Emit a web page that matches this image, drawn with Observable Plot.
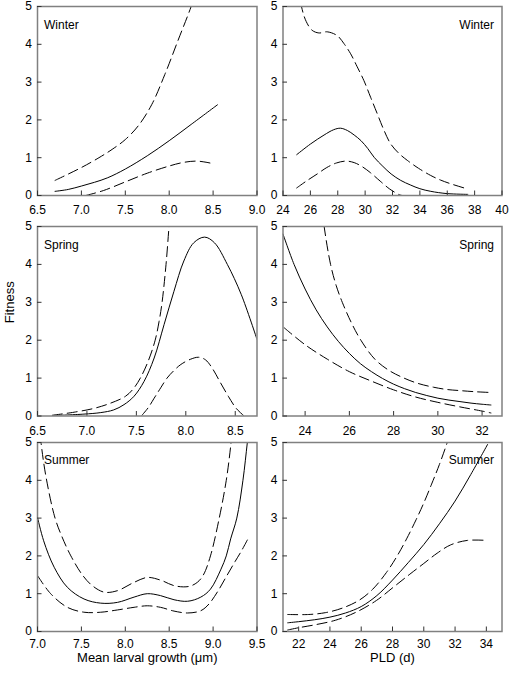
<!DOCTYPE html>
<html><head><meta charset="utf-8">
<script src="https://cdn.jsdelivr.net/npm/d3@7"></script>
<script src="https://cdn.jsdelivr.net/npm/@observablehq/plot@0.6"></script>
<style>
body{margin:0;background:#fff;}
#fig{position:relative;width:510px;height:674px;overflow:hidden;background:#fff;}
#fig svg{position:absolute;}
</style></head><body><div id="fig"></div><script>
// ---------- data ----------
const seasons = ["Winter", "Spring", "Summer"];
const yTicks = [0, 1, 2, 3, 4, 5];
const growthTitle = "Mean larval growth (\u03bcm)";
const pldTitle = "PLD (d)";
const yTitle = "Fitness";

// Winter, growth
const winterGrowthTicks = [6.5, 7.0, 7.5, 8.0, 8.5, 9.0];
const winterGrowthFit = [[6.7,0.11],[6.85,0.16],[7.0,0.25],[7.15,0.35],[7.3,0.47],[7.5,0.70],[7.75,1.05],[8.0,1.45],[8.25,1.88],[8.55,2.40]];
const winterGrowthUpper = [[6.7,0.40],[7.0,0.74],[7.2,1.0],[7.35,1.22],[7.5,1.48],[7.65,1.85],[7.8,2.4],[7.95,3.2],[8.1,4.1],[8.25,5.0],[8.32,5.5]];
const winterGrowthLower = [[7.05,0],[7.25,0.13],[7.5,0.36],[7.75,0.59],[8.0,0.78],[8.15,0.87],[8.3,0.91],[8.42,0.88],[8.52,0.83]];

// Winter, PLD
const winterPldTicks = [24, 26, 28, 30, 32, 34, 36, 38, 40];
const winterPldFit = [[25,1.08],[26,1.36],[27,1.6],[27.7,1.74],[28.2,1.78],[28.7,1.72],[29.2,1.6],[29.7,1.45],[30.2,1.24],[30.66,1.01],[31.3,0.77],[31.9,0.57],[32.6,0.40],[33.3,0.28],[34.0,0.18],[34.8,0.11],[36.0,0.05],[37.5,0.03]];
const winterPldUpper = [[25.0,5.9],[25.35,5.0],[25.7,4.6],[26.13,4.37],[26.62,4.30],[27.23,4.33],[27.96,4.23],[28.45,4.02],[28.94,3.75],[29.4,3.42],[29.91,3.04],[30.4,2.6],[30.89,2.16],[31.36,1.74],[31.86,1.37],[32.45,1.12],[33.08,0.93],[33.9,0.72],[34.79,0.53],[35.5,0.41],[36.25,0.31],[37.5,0.17]];
const winterPldLower = [[25.0,0.20],[25.7,0.38],[26.5,0.57],[27.2,0.74],[27.9,0.86],[28.6,0.91],[29.2,0.87],[29.8,0.76],[30.4,0.6],[31.1,0.38],[31.8,0.17],[32.5,0.02],[32.7,0]];

// Spring, growth
const springGrowthTicks = [6.5, 7.0, 7.5, 8.0, 8.5];
const springGrowthFit = [[6.65,0.01],[6.97,0.05],[7.14,0.09],[7.27,0.16],[7.375,0.30],[7.476,0.52],[7.577,0.91],[7.68,1.53],[7.78,2.41],[7.88,3.29],[7.98,4.09],[8.08,4.57],[8.19,4.72],[8.29,4.57],[8.42,4.0],[8.56,3.21],[8.72,2.02]];
const springGrowthUpper = [[6.65,0.02],[6.87,0.10],[7.07,0.20],[7.24,0.34],[7.39,0.52],[7.47,0.72],[7.54,1.0],[7.62,1.45],[7.69,2.0],[7.73,2.5],[7.76,3.0],[7.80,4.0],[7.83,5.0],[7.85,5.7]];
const springGrowthLower = [[7.55,0],[7.62,0.22],[7.68,0.47],[7.75,0.76],[7.81,1.0],[7.88,1.2],[7.95,1.36],[8.05,1.50],[8.13,1.55],[8.2,1.48],[8.27,1.25],[8.35,0.88],[8.43,0.52],[8.51,0.2],[8.59,0]];

// Spring, PLD
const springPldTicks = [24, 26, 28, 30, 32];
const springPldFit = [[23,4.8],[23.5,4.0],[24,3.35],[24.5,2.8],[25,2.35],[25.5,1.97],[26,1.65],[26.5,1.38],[27,1.17],[27.5,0.99],[28,0.84],[28.5,0.72],[29,0.62],[29.5,0.54],[30,0.47],[30.5,0.42],[31,0.38],[31.5,0.34],[32,0.31],[32.4,0.29]];
const springPldUpper = [[24.7,5.8],[24.86,5.0],[25.15,4.0],[25.4,3.45],[25.68,3.0],[26.1,2.45],[26.52,2.0],[27.15,1.5],[27.8,1.2],[28.47,1.0],[29.1,0.86],[29.8,0.76],[30.4,0.7],[31.0,0.67],[31.7,0.64],[32.4,0.62]];
const springPldLower = [[23.05,2.33],[24,1.88],[25,1.5],[26,1.17],[27,0.92],[28,0.69],[29,0.5],[30,0.36],[31,0.24],[32,0.13],[32.4,0.08]];

// Summer, growth
const summerGrowthTicks = [7.0, 7.5, 8.0, 8.5, 9.0, 9.5];
const summerGrowthFit = [[7.0,3.02],[7.07,2.40],[7.19,1.70],[7.34,1.17],[7.53,0.86],[7.72,0.75],[7.91,0.77],[8.10,0.91],[8.25,1.0],[8.40,0.95],[8.555,0.84],[8.71,0.80],[8.86,0.91],[8.97,1.12],[9.09,1.65],[9.15,2.0],[9.2,2.45],[9.27,3.0],[9.34,4.0],[9.39,5.0],[9.42,5.6]];
const summerGrowthUpper = [[7.0,6.0],[7.04,5.0],[7.1,4.05],[7.2,3.0],[7.28,2.5],[7.38,2.0],[7.51,1.5],[7.62,1.22],[7.76,1.04],[7.91,1.08],[8.1,1.30],[8.25,1.43],[8.4,1.36],[8.56,1.21],[8.72,1.19],[8.82,1.3],[8.89,1.5],[8.97,2.0],[9.07,3.0],[9.15,4.0],[9.2,4.9],[9.23,5.6]];
const summerGrowthLower = [[7.0,1.48],[7.15,1.0],[7.34,0.64],[7.53,0.51],[7.72,0.51],[7.91,0.57],[8.1,0.64],[8.25,0.68],[8.4,0.64],[8.555,0.54],[8.71,0.49],[8.86,0.55],[8.95,0.72],[9.05,1.05],[9.15,1.45],[9.25,1.85],[9.32,2.12],[9.39,2.42]];

// Summer, PLD
const summerPldTicks = [22, 24, 26, 28, 30, 32, 34];
const summerPldFit = [[21.3,0.23],[22,0.26],[23,0.31],[24,0.38],[25,0.49],[26,0.66],[27,0.95],[28,1.36],[29,1.82],[30,2.3],[31,2.85],[32,3.45],[33,4.15],[34.08,4.95]];
const summerPldUpper = [[21.3,0.45],[22.65,0.45],[23.73,0.50],[24.8,0.62],[25.88,0.83],[26.74,1.12],[27.61,1.56],[28.3,2.0],[28.9,2.45],[29.5,2.95],[30.0,3.4],[30.5,3.9],[31.0,4.42],[31.5,5.0],[31.7,5.25]];
const summerPldLower = [[21.3,0.04],[22,0.1],[23.08,0.18],[24.37,0.30],[25.67,0.51],[26.97,0.82],[28.05,1.17],[29.12,1.52],[30.0,1.8],[30.85,2.07],[31.71,2.29],[32.79,2.41],[34.04,2.41]];

// ---------- layout ----------
const FONT = "'Liberation Sans', Arial, Helvetica, sans-serif";
const rows = [{top: 6, bottom: 195}, {top: 225.5, bottom: 415}, {top: 442, bottom: 631}];
const cols = [{svgLeft: 0, svgWidth: 268, left: 37, right: 256.5}, {svgLeft: 258, svgWidth: 252, left: 282.5, right: 501.5}];
const fig = document.getElementById("fig");
const fmt1 = d3.format(".1f");
const fmt0 = d => String(d);

function pts(arr) { return arr.map(([x, y]) => ({x, y})); }

function panel(cfg) {
  const r = rows[cfg.row], c = cols[cfg.col];
  const mt = 6, mb = cfg.row === 2 ? 43 : 24;
  const h = (r.bottom - r.top) + mt + mb;
  const left = cfg.col === 0;
  const marks = [
    Plot.line(pts(cfg.fit), {x: "x", y: "y", curve: "catmull-rom", stroke: "black", strokeWidth: 1, clip: true}),
    Plot.line(pts(cfg.upper), {x: "x", y: "y", curve: "catmull-rom", stroke: "black", strokeWidth: 1, strokeDasharray: "10,5", clip: true}),
    Plot.line(pts(cfg.lower), {x: "x", y: "y", curve: "catmull-rom", stroke: "black", strokeWidth: 1, strokeDasharray: "10,5", clip: true}),
    Plot.frame({stroke: "#808080", strokeWidth: 1.5}),
    Plot.axisX({ticks: cfg.xTicks, tickFormat: cfg.fmt, tickSize: -4.5, tickPadding: cfg.row === 2 ? 12 : 14.5, label: null, stroke: "#333", fontSize: 12}),
    Plot.axisY({ticks: yTicks, tickFormat: fmt0, tickSize: -4.5, tickPadding: 10, label: null, stroke: "#333", fontSize: 12}),
    Plot.text([cfg.season], {frameAnchor: left ? "top-left" : "top-right", textAnchor: left ? "start" : "end",
      dx: left ? 6.5 : -8, dy: cfg.row === 2 ? 12.5 : 14, fontSize: 12, fill: "black"})
  ];
  if (cfg.xTitle) marks.push(Plot.text([cfg.xTitle], {frameAnchor: "bottom", dy: 30, fontSize: 13, fill: "black"}));
  if (cfg.yTitle) marks.push(Plot.text([cfg.yTitle], {frameAnchor: "left", dx: -28, dy: 2, rotate: -90, fontSize: 13, fill: "black"}));
  const chart = Plot.plot({
    width: c.svgWidth, height: h,
    marginLeft: c.left - c.svgLeft, marginRight: c.svgLeft + c.svgWidth - c.right,
    marginTop: mt, marginBottom: mb,
    style: {fontFamily: FONT, fontSize: "12px", color: "black", background: "transparent", overflow: "visible"},
    x: {domain: cfg.xDomain},
    y: {domain: [0, 5]},
    marks
  });
  chart.style.left = c.svgLeft + "px";
  chart.style.top = (r.top - mt) + "px";
  fig.appendChild(chart);
}

panel({row: 0, col: 0, xDomain: [6.5, 9.0], xTicks: winterGrowthTicks, fmt: fmt1, season: seasons[0], fit: winterGrowthFit, upper: winterGrowthUpper, lower: winterGrowthLower});
panel({row: 0, col: 1, xDomain: [24, 40], xTicks: winterPldTicks, fmt: fmt0, season: seasons[0], fit: winterPldFit, upper: winterPldUpper, lower: winterPldLower});
panel({row: 1, col: 0, xDomain: [6.5, 8.72], xTicks: springGrowthTicks, fmt: fmt1, season: seasons[1], fit: springGrowthFit, upper: springGrowthUpper, lower: springGrowthLower, yTitle});
panel({row: 1, col: 1, xDomain: [23, 32.9], xTicks: springPldTicks, fmt: fmt0, season: seasons[1], fit: springPldFit, upper: springPldUpper, lower: springPldLower});
panel({row: 2, col: 0, xDomain: [7.0, 9.5], xTicks: summerGrowthTicks, fmt: fmt1, season: seasons[2], fit: summerGrowthFit, upper: summerGrowthUpper, lower: summerGrowthLower, xTitle: growthTitle});
panel({row: 2, col: 1, xDomain: [21, 35], xTicks: summerPldTicks, fmt: fmt0, season: seasons[2], fit: summerPldFit, upper: summerPldUpper, lower: summerPldLower, xTitle: pldTitle});
</script></body></html>
